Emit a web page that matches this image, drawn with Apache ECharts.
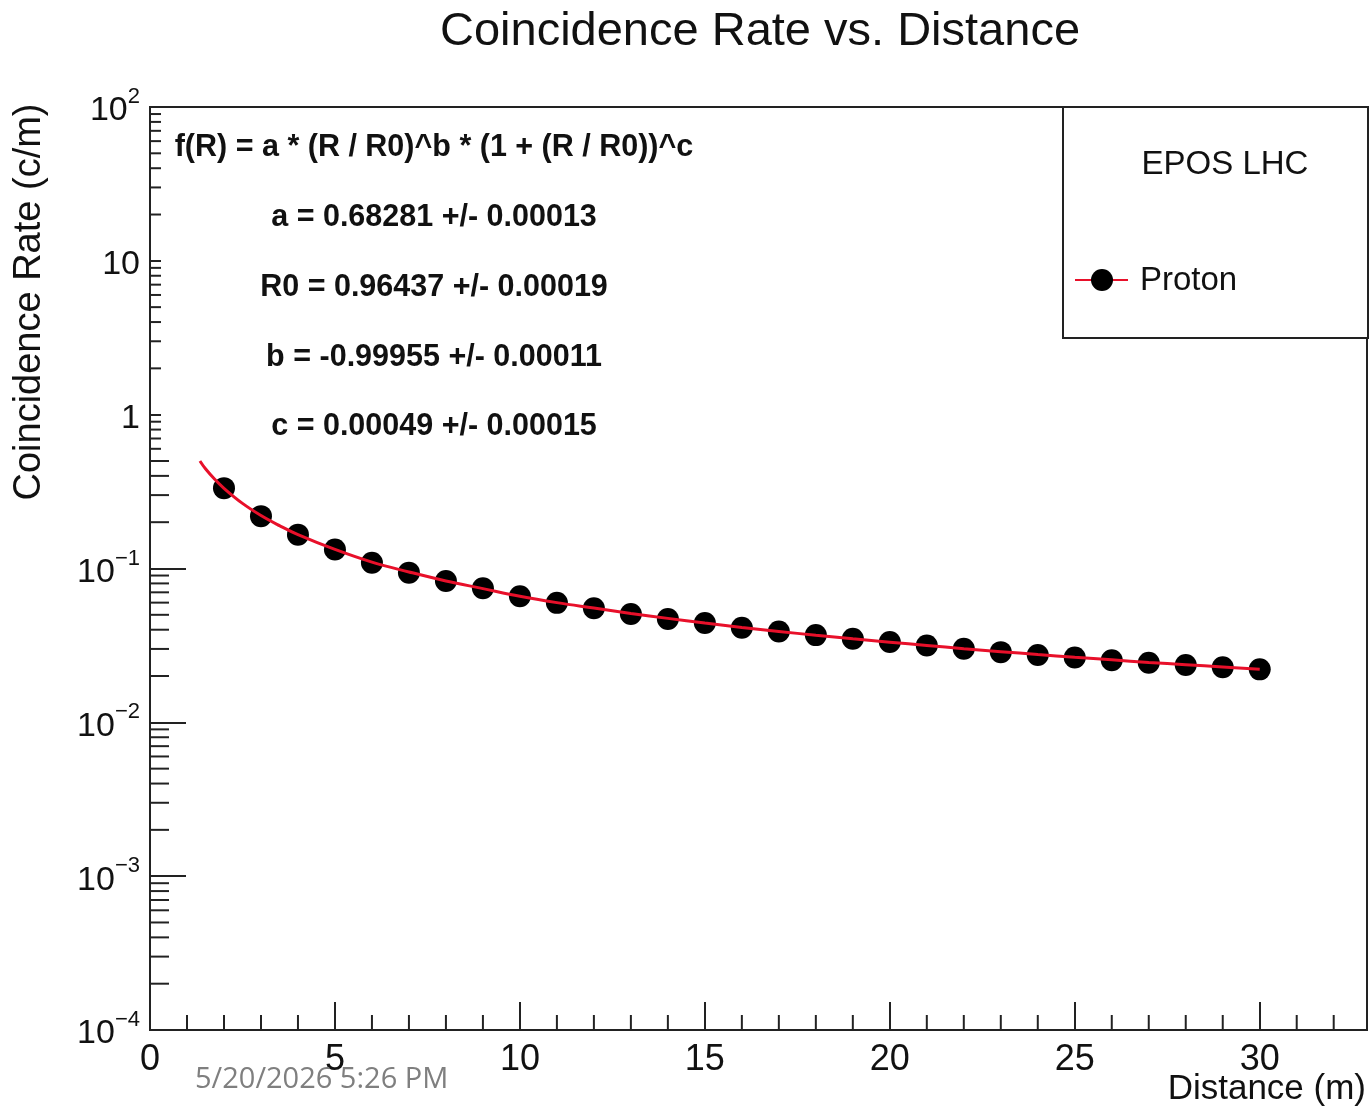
<!DOCTYPE html>
<html>
<head>
<meta charset="utf-8">
<title>Coincidence Rate vs. Distance</title>
<script src="https://cdn.jsdelivr.net/npm/echarts@6/dist/echarts.min.js"></script>
<style>
  html, body { margin: 0; padding: 0; background: #ffffff; }
  #chart { width: 1370px; height: 1110px; }
</style>
</head>
<body>
<div id="chart"></div>
<script>
// ---- data ----
const distances = [2, 3, 4, 5, 6, 7, 8, 9, 10, 11, 12, 13, 14, 15, 16, 17, 18, 19, 20, 21, 22, 23, 24, 25, 26, 27, 28, 29, 30];
const rates = [0.333, 0.219, 0.166, 0.133, 0.109, 0.094, 0.083, 0.0745, 0.0660, 0.0598, 0.0551, 0.0506, 0.0470, 0.0442, 0.0412, 0.0389, 0.0369, 0.0349, 0.0333, 0.0316, 0.0301, 0.0286, 0.0274, 0.0264, 0.0253, 0.0244, 0.0236, 0.0228, 0.0221];
const fitR = [1.35, 1.5, 1.75, 2, 2.5, 3, 3.5, 4, 5, 6, 7, 8, 9, 10, 11, 12, 13, 14, 15, 16, 17, 18, 19, 20, 21, 22, 23, 24, 25, 26, 27, 28, 29, 30];
const fitRate = [0.50, 0.445, 0.38, 0.332, 0.265, 0.221, 0.19, 0.166, 0.133, 0.110, 0.095, 0.083, 0.074, 0.066, 0.060, 0.0553, 0.0510, 0.0474, 0.0442, 0.0414, 0.0390, 0.0368, 0.0349, 0.0332, 0.0316, 0.0301, 0.0288, 0.0276, 0.0265, 0.0255, 0.0245, 0.0237, 0.0229, 0.0221];
const xTickLabels = [0, 5, 10, 15, 20, 25, 30];
const yTickValues = [1e-4, 1e-3, 1e-2, 1e-1, 1, 10, 100];
const fitLines = [
  'f(R) = a * (R / R0)^b * (1 + (R / R0))^c',
  'a = 0.68281 +/- 0.00013',
  'R0 = 0.96437 +/- 0.00019',
  'b = -0.99955 +/- 0.00011',
  'c = 0.00049 +/- 0.00015'
];

// ---- minor tick positions (axis structure) ----
const X_MIN = 0, X_MAX = 32.9, Y_MIN = 1e-4, Y_MAX = 100;
const yMinor = [];
for (let e = -4; e < 2; e++) for (let k = 2; k <= 9; k++) yMinor.push([X_MIN, k * Math.pow(10, e)]);
const xMinor = [];
for (let k = 1; k <= 32; k++) if (k % 5 !== 0) xMinor.push([k, Y_MIN]);

const FONT = '"Liberation Sans", Arial, Helvetica, sans-serif';
const chart = echarts.init(document.getElementById('chart'), null, { renderer: 'canvas' });

function yLabel(v) {
  const e = Math.round(Math.log10(v));
  if (e === 0) return '{b|1}';
  if (e === 1) return '{b|10}';
  return '{b|10}{s|' + (e < 0 ? '\u2212' + (-e) : e) + '}';
}

const fitGraphics = fitLines.map((t, i) => ({
  type: 'text', x: 434, y: [148, 218, 288, 358, 427][i], z: 101,
  style: { text: t, font: 'bold 30.5px ' + FONT, fill: '#111', align: 'center', verticalAlign: 'middle' }
}));

const option = {
  backgroundColor: '#ffffff',
  animation: false,
  grid: { left: 150, right: 3, top: 107, bottom: 80, show: true, borderColor: '#222', borderWidth: 2, backgroundColor: 'transparent' },
  xAxis: {
    type: 'value', min: X_MIN, max: X_MAX, interval: 5,
    splitLine: { show: false },
    axisLine: { show: true, onZero: false, lineStyle: { color: '#222', width: 2 } },
    axisTick: { show: true, inside: true, length: 28, lineStyle: { color: '#222', width: 2 } },
    axisLabel: { margin: 12, fontSize: 36, fontFamily: FONT, color: '#111',
      formatter: v => (xTickLabels.indexOf(v) >= 0 ? String(v) : '') }
  },
  yAxis: {
    type: 'log', logBase: 10, min: Y_MIN, max: Y_MAX,
    splitLine: { show: false },
    axisLine: { show: true, lineStyle: { color: '#222', width: 2 } },
    axisTick: { show: true, inside: true, length: 36, customValues: yTickValues, lineStyle: { color: '#222', width: 2 } },
    axisLabel: {
      customValues: yTickValues, margin: 10, color: '#111', formatter: yLabel,
      rich: {
        b: { fontSize: 34, fontFamily: FONT, color: '#111', lineHeight: 42, padding: [8, 0, 0, 0] },
        s: { fontSize: 22, fontFamily: FONT, color: '#111', verticalAlign: 'top', lineHeight: 24 }
      }
    }
  },
  series: [
    {
      type: 'custom', name: 'yMinorTicks', silent: true, clip: false, z: 5,
      data: yMinor,
      renderItem: (params, api) => {
        const p = api.coord([api.value(0), api.value(1)]);
        return { type: 'line', shape: { x1: p[0], y1: p[1], x2: p[0] + 19, y2: p[1] }, style: { stroke: '#222', lineWidth: 2 } };
      }
    },
    {
      type: 'custom', name: 'xMinorTicks', silent: true, clip: false, z: 5,
      data: xMinor,
      renderItem: (params, api) => {
        const p = api.coord([api.value(0), api.value(1)]);
        return { type: 'line', shape: { x1: p[0], y1: p[1], x2: p[0], y2: p[1] - 15 }, style: { stroke: '#222', lineWidth: 2 } };
      }
    },
    {
      type: 'scatter', name: 'Proton', z: 6,
      data: distances.map((d, i) => [d, rates[i]]),
      symbol: 'circle', symbolSize: 22,
      itemStyle: { color: '#000', opacity: 1 }
    },
    {
      type: 'line', name: 'fit', z: 7,
      data: fitR.map((r, i) => [r, fitRate[i]]),
      smooth: 0.4, showSymbol: false, symbol: 'none',
      lineStyle: { color: '#e8102a', width: 3 }
    }
  ],
  graphic: [
    // fit parameter box (white pave covering the axis ticks)
    { type: 'rect', z: 100, shape: { x: 161, y: 109, width: 545, height: 348 }, style: { fill: '#ffffff', stroke: null } },
    ...fitGraphics,
    // legend box
    { type: 'rect', z: 100, shape: { x: 1063, y: 107, width: 305, height: 231 }, style: { fill: '#ffffff', stroke: '#222', lineWidth: 2 } },
    { type: 'text', z: 101, x: 1225, y: 165, style: { text: 'EPOS LHC', font: '33px ' + FONT, fill: '#111', align: 'center', verticalAlign: 'middle' } },
    { type: 'line', z: 101, shape: { x1: 1075, y1: 280, x2: 1128, y2: 280 }, style: { stroke: '#e8102a', lineWidth: 2 } },
    { type: 'circle', z: 102, shape: { cx: 1102, cy: 280, r: 11 }, style: { fill: '#000' } },
    { type: 'text', z: 101, x: 1140, y: 281, style: { text: 'Proton', font: '33px ' + FONT, fill: '#111', align: 'left', verticalAlign: 'middle' } },
    // title
    { type: 'text', z: 101, x: 760, y: 32, style: { text: 'Coincidence Rate vs. Distance', font: '47px ' + FONT, fill: '#111', align: 'center', verticalAlign: 'middle' } },
    // axis titles
    { type: 'text', z: 101, x: 30, y: 302, rotation: Math.PI / 2, style: { text: 'Coincidence Rate (c/m)', font: '38px ' + FONT, fill: '#111', align: 'center', verticalAlign: 'middle' } },
    { type: 'text', z: 101, x: 1366, y: 1089, style: { text: 'Distance (m)', font: '35px ' + FONT, fill: '#111', align: 'right', verticalAlign: 'middle' } },
    // slide footer
    { type: 'text', z: 101, x: 195, y: 1080, style: { text: '5/20/2026 5:26 PM', font: '29px "Open Sans", sans-serif', fill: '#7f7f7f', align: 'left', verticalAlign: 'middle' } }
  ]
};
chart.setOption(option);
</script>
</body>
</html>
